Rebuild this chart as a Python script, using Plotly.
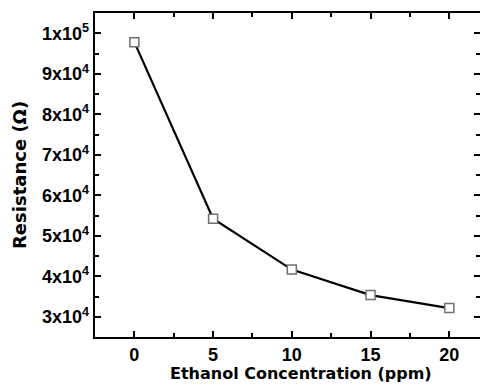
import plotly.graph_objects as go

concentration = [0, 5, 10, 15, 20]
resistance = [97800, 54200, 41650, 35350, 32150]

x_tickvals = [0, 5, 10, 15, 20]
x_ticktext = ["<b>0</b>", "<b>5</b>", "<b>10</b>", "<b>15</b>", "<b>20</b>"]
y_tickvals = [30000, 40000, 50000, 60000, 70000, 80000, 90000, 100000]
y_ticktext = ["<b>3x10<sup>4</sup></b>", "<b>4x10<sup>4</sup></b>", "<b>5x10<sup>4</sup></b>",
              "<b>6x10<sup>4</sup></b>", "<b>7x10<sup>4</sup></b>", "<b>8x10<sup>4</sup></b>",
              "<b>9x10<sup>4</sup></b>", "<b>1x10<sup>5</sup></b>"]

FONT = "Arial, Liberation Sans, Helvetica, sans-serif"
TITLE_FONT = "DejaVu Sans, Arial, sans-serif"

fig = go.Figure()
fig.add_trace(go.Scatter(
    x=concentration, y=resistance, mode="lines+markers",
    line=dict(color="black", width=2.2),
    marker=dict(symbol="square", size=9, color="white",
                line=dict(color="#707070", width=1.5)),
    showlegend=False, hoverinfo="skip",
))

axis_common = dict(
    showline=True, linecolor="black", linewidth=2.4, mirror="ticks",
    ticks="inside", ticklen=6, tickwidth=2, tickcolor="black",
    showgrid=False, zeroline=False, automargin=False,
    tickfont=dict(family=FONT, size=18, color="black"),
)

fig.update_xaxes(
    range=[-2.5, 21.95], tickvals=x_tickvals, ticktext=x_ticktext,
    minor=dict(ticks="inside", ticklen=4, tickwidth=2, tickcolor="black", dtick=2.5, tick0=0),
    **axis_common,
)
fig.update_yaxes(
    range=[25000, 105000], tickvals=y_tickvals, ticktext=y_ticktext,
    minor=dict(ticks="inside", ticklen=4, tickwidth=2, tickcolor="black", dtick=5000, tick0=0),
    **axis_common,
)

fig.add_annotation(
    text="<b>Resistance (Ω)</b>", xref="paper", yref="paper",
    x=0, y=0.5, xshift=-76, textangle=-90, showarrow=False,
    xanchor="center", yanchor="middle",
    font=dict(family=TITLE_FONT, size=18, color="black"),
)
fig.add_annotation(
    text="<b>Ethanol Concentration (ppm)</b>", xref="x", yref="paper",
    x=10.6, y=0, yshift=-36, showarrow=False, yanchor="middle",
    font=dict(family=TITLE_FONT, size=16, color="black"),
)

fig.update_layout(
    width=480, height=388,
    margin=dict(l=95, r=0, t=13, b=51),
    plot_bgcolor="white", paper_bgcolor="white",
    hovermode=False,
)

fig.write_html(
    "out.html",
    config={"displayModeBar": False, "staticPlot": True},
    post_script="document.body.style.margin='0';document.body.style.overflow='hidden';",
)
